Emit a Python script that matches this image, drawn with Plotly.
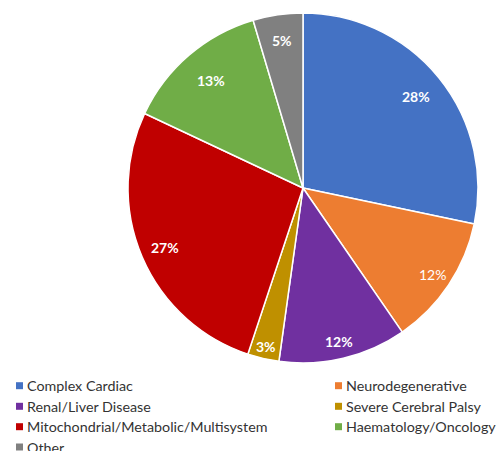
import math
import plotly.graph_objects as go

categories = ["Complex Cardiac", "Neurodegenerative", "Renal/Liver Disease",
              "Severe Cerebral Palsy", "Mitochondrial/Metabolic/Multisystem",
              "Haematology/Oncology", "Other"]
values = [28.3, 12.1, 11.8, 2.9, 26.9, 13.4, 4.6]
colors = ["#4472C4", "#ED7D31", "#7030A0", "#BF9000", "#C00000", "#70AD47", "#808080"]

# label styling (Excel "best fit" style placement)
label_bold = [True, False, True, True, True, True, True]
label_radius = [0.83, 0.89, 0.90, 0.93, 0.86, 0.81, 0.85]

W, H = 501, 451
cx, cy, R = 303, 188, 175

fig = go.Figure(go.Pie(
    labels=categories,
    values=values,
    sort=False,
    direction="clockwise",
    rotation=0,
    marker=dict(colors=colors, line=dict(color="white", width=1.5)),
    textinfo="none",
    hoverinfo="label+percent",
    showlegend=False,
    domain=dict(x=[(cx - R) / W, (cx + R) / W], y=[(H - cy - R) / H, (H - cy + R) / H]),
))

annotations = []
shapes = []
total = sum(values)
cum = 0.0
for v, b, rf in zip(values, label_bold, label_radius):
    mid = (cum + v / 2) / total * 2 * math.pi
    cum += v
    px = cx + rf * R * math.sin(mid)
    py = cy - rf * R * math.cos(mid)
    pct = f"{int(v / total * 100 + 0.5)}%"
    annotations.append(dict(
        x=px / W, y=1 - py / H, xref="paper", yref="paper",
        text=f"<b>{pct}</b>" if b else pct, showarrow=False,
        xanchor="center", yanchor="middle",
        font=dict(family="Lato", size=14, color="white"),
    ))

# legend in two columns
col_sq_x = [16, 335]
row_y = [385.7, 406.3, 426.7, 447.0]
sq = 7
for i, (name, col) in enumerate(zip(categories, colors)):
    c, r = i % 2, i // 2
    x0 = col_sq_x[c]
    yc = row_y[r]
    shapes.append(dict(
        type="rect", xref="paper", yref="paper",
        x0=x0 / W, x1=(x0 + sq) / W,
        y0=1 - (yc + sq / 2) / H, y1=1 - (yc - sq / 2) / H,
        fillcolor=col, line=dict(width=0),
    ))
    annotations.append(dict(
        x=(x0 + sq + 2) / W, y=1 - yc / H, xref="paper", yref="paper",
        text=name, showarrow=False, xanchor="left", yanchor="middle",
        font=dict(family="Lato", size=14.3, color="#333333"),
    ))

fig.update_layout(
    width=W, height=H,
    margin=dict(l=0, r=0, t=0, b=0, autoexpand=False),
    paper_bgcolor="white",
    plot_bgcolor="white",
    annotations=annotations,
    shapes=shapes,
    showlegend=False,
)

fig.write_html("out.html")
